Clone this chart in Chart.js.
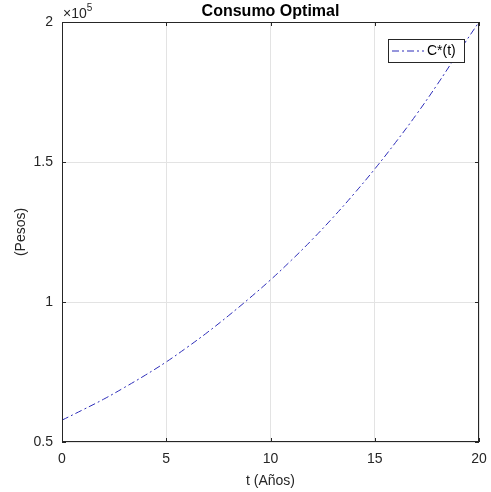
<!DOCTYPE html>
<html>
<head>
<meta charset="utf-8">
<script src="https://cdn.jsdelivr.net/npm/chart.js@4"></script>
<style>
  html, body { margin: 0; padding: 0; background: #fff; }
  #wrap { width: 491px; height: 492px; }
</style>
</head>
<body>
<div id="wrap"><canvas id="myChart" width="491" height="492"></canvas></div>
<script>
// values (pesos, by year)
var years = [0, 1, 2, 3, 4, 5, 6, 7, 8, 9, 10, 11, 12, 13, 14, 15, 16, 17, 18, 19, 20];
var consumo = [57800, 61500, 65300, 69500, 73900, 78600, 83800, 89300, 95200, 101400, 107900,
               114900, 122300, 130200, 138600, 147500, 157000, 167000, 177700, 189000, 200000];
var xTicks = [0, 5, 10, 15, 20];
var yTicks = [50000, 100000, 150000, 200000];

var axisColor = '#262626';
var fontName = '"Liberation Sans", Arial, sans-serif';

var points = [];
for (let i = 0; i < years.length; i++) {
    points.push({x: years[i], y: consumo[i]});
}

// box, inward ticks, title, exponent and legend drawn like matlab
var matlabBox = {
    id: 'matlabBox',
    afterDraw: function (chart) {
        var ctx = chart.ctx;
        var a = chart.chartArea;
        var xs = chart.scales.x;
        var ys = chart.scales.y;
        ctx.save();
        ctx.strokeStyle = axisColor;
        ctx.lineWidth = 1;
        ctx.strokeRect(a.left + 0.5, a.top + 0.5, a.right - a.left - 1, a.bottom - a.top - 1);
        ctx.beginPath();
        xTicks.forEach(function (t) {
            var px = Math.round(xs.getPixelForValue(t)) + 0.5;
            ctx.moveTo(px, a.bottom); ctx.lineTo(px, a.bottom - 4);
            ctx.moveTo(px, a.top); ctx.lineTo(px, a.top + 4);
        });
        yTicks.forEach(function (t) {
            var py = Math.round(ys.getPixelForValue(t)) + 0.5;
            ctx.moveTo(a.left, py); ctx.lineTo(a.left + 4, py);
            ctx.moveTo(a.right, py); ctx.lineTo(a.right - 4, py);
        });
        ctx.stroke();

        // title
        ctx.fillStyle = '#000';
        ctx.font = 'bold 16px ' + fontName;
        ctx.textAlign = 'center';
        ctx.textBaseline = 'alphabetic';
        ctx.fillText('Consumo Optimal', (a.left + a.right) / 2, 16);

        // exponent
        ctx.fillStyle = axisColor;
        ctx.textAlign = 'left';
        ctx.font = '14px ' + fontName;
        ctx.fillText('\u00d710', a.left + 1, 18);
        var w = ctx.measureText('\u00d710').width;
        ctx.font = '10px ' + fontName;
        ctx.fillText('5', a.left + 1 + w, 11);

        // legend
        var lx = 388, ly = 39, lw = 76, lh = 23;
        ctx.fillStyle = '#fff';
        ctx.fillRect(lx, ly, lw, lh);
        ctx.strokeStyle = axisColor;
        ctx.strokeRect(lx + 0.5, ly + 0.5, lw, lh);
        ctx.strokeStyle = chart.data.datasets[0].borderColor;
        ctx.setLineDash([7, 3, 2, 3]);
        ctx.beginPath();
        ctx.moveTo(lx + 4, ly + 12);
        ctx.lineTo(lx + 36, ly + 12);
        ctx.stroke();
        ctx.setLineDash([]);
        ctx.fillStyle = '#000';
        ctx.font = '14px ' + fontName;
        ctx.textBaseline = 'middle';
        ctx.fillText(chart.data.datasets[0].label, lx + 39, ly + 12);
        ctx.restore();
    }
};

var ctx = document.getElementById('myChart').getContext('2d');
var myChart = new Chart(ctx, {
    type: 'line',
    data: {
        datasets: [{
            label: 'C*(t)',
            data: points,
            borderColor: 'rgb(45, 45, 185)',
            borderWidth: 1,
            borderDash: [7, 3, 2, 3],
            pointRadius: 0,
            tension: 0.4,
            fill: false
        }]
    },
    options: {
        responsive: false,
        animation: false,
        layout: { padding: { left: 0, right: 12, top: 22, bottom: 0 } },
        plugins: {
            legend: { display: false },
            title: { display: false },
            tooltip: { enabled: false }
        },
        scales: {
            x: {
                type: 'linear',
                min: 0,
                max: 20,
                afterBuildTicks: function (scale) {
                    scale.ticks = xTicks.map(function (v) { return {value: v}; });
                },
                afterFit: function (scale) {
                    scale.height = 50;
                    scale.paddingLeft = 0;
                    scale.paddingRight = 0;
                },
                grid: { color: '#e3e3e3', drawTicks: false },
                border: { display: false },
                ticks: {
                    color: axisColor,
                    padding: 9,
                    font: { family: fontName, size: 14 },
                    maxRotation: 0
                },
                title: {
                    display: true,
                    text: 't (Años)',
                    color: axisColor,
                    padding: { top: 0, bottom: 2 },
                    font: { family: fontName, size: 14 }
                }
            },
            y: {
                min: 50000,
                max: 200000,
                afterBuildTicks: function (scale) {
                    scale.ticks = yTicks.map(function (v) { return {value: v}; });
                },
                afterFit: function (scale) {
                    scale.width = 62;
                    scale.paddingTop = 0;
                    scale.paddingBottom = 0;
                },
                grid: { color: '#e3e3e3', drawTicks: false },
                border: { display: false },
                ticks: {
                    color: axisColor,
                    padding: 9,
                    font: { family: fontName, size: 14 },
                    callback: function (v) { return String(v / 100000); }
                },
                title: {
                    display: true,
                    text: '(Pesos)',
                    color: axisColor,
                    padding: { top: 13, bottom: 0 },
                    font: { family: fontName, size: 14 }
                }
            }
        }
    },
    plugins: [matlabBox]
});
</script>
</body>
</html>
